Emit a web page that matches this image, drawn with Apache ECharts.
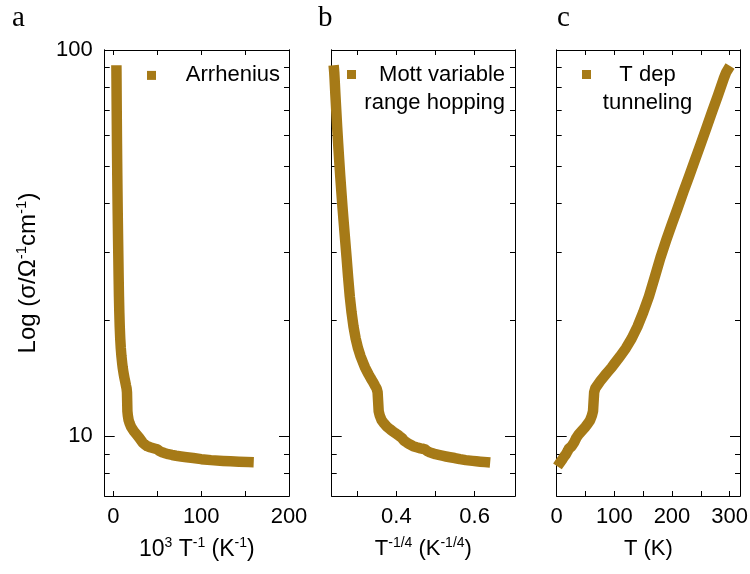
<!DOCTYPE html>
<html>
<head>
<meta charset="utf-8">
<script src="https://cdn.jsdelivr.net/npm/echarts@6/dist/echarts.min.js"></script>
<style>
  html, body { margin: 0; padding: 0; background: #fff; }
  #chart { width: 750px; height: 574px; }
</style>
</head>
<body>
<div id="chart"></div>
<script>
// temperature (K) and conductivity
var tempK = [6.5, 7, 7.5, 8, 9, 10, 11, 12, 13, 14, 15, 16, 17, 18, 19, 20, 21, 22, 24, 26, 28, 30, 32, 34, 36, 38, 40, 43, 46, 50,
  54, 58, 61, 63, 64, 65, 67, 70, 75, 80, 85, 90, 95, 100, 110, 120, 130, 140, 150, 160, 170, 180, 190, 200, 210, 220, 230,
  240, 250, 260, 270, 280, 290, 294, 296];
var sigma = [8.57, 8.59, 8.61, 8.63, 8.67, 8.72, 8.78, 8.82, 8.86, 8.90, 8.94, 8.98, 9.03, 9.08, 9.15, 9.25, 9.28, 9.30, 9.36, 9.42,
  9.52, 9.62, 9.72, 9.90, 10.0, 10.1, 10.18, 10.3, 10.42, 10.58, 10.78, 11.0, 11.3, 11.6, 12.3, 13.0, 13.3, 13.5, 13.85, 14.15,
  14.45, 14.75, 15.05, 15.4, 16.1, 16.9, 17.9, 19.2, 20.9, 23.0, 25.8, 29.0, 32.2, 35.5, 39.0, 43.0, 47.2, 52.0, 57.2, 63.0,
  69.5, 76.5, 84.5, 87.5, 88.5];

var xTicksA = [0, 50, 100, 150, 200];
var xLabelsA = [0, 100, 200];
var xTicksB = [0.3, 0.4, 0.5, 0.6];
var xLabelsB = [0.4, 0.6];
var xTicksC = [50, 100, 150, 200, 250, 300];
var xLabelsC = [0, 100, 200, 300];
var yMajor = [10, 100];
var yMinor = [8, 9, 20, 30, 40, 50, 60, 70, 80, 90];

var colour = '#A67A17';
var font = 'Liberation Sans, Arial, sans-serif';
var serif = 'Liberation Serif, Times New Roman, serif';

var arrData = tempK.map(function (t, i) { return [1000 / t, sigma[i]]; });
var mottData = tempK.map(function (t, i) { return [Math.pow(t, -0.25), sigma[i]]; });
var tunData = tempK.map(function (t, i) { return [t, sigma[i]]; });

function richFor(size, sup) {
  return {
    n: { fontSize: size, lineHeight: size + 4, fontFamily: font, color: '#000' },
    s: { fontSize: sup, lineHeight: sup, verticalAlign: 'top', fontFamily: font, color: '#000' }
  };
}

function xAxes(g, min, max, ticks, labels, name) {
  var line = { onZero: false, lineStyle: { color: '#000', width: 1 } };
  var tick = { inside: true, length: 5, customValues: ticks, lineStyle: { color: '#000', width: 1 } };
  return [{
    type: 'value', gridIndex: g, position: 'bottom', min: min, max: max,
    axisLine: line, axisTick: tick,
    axisLabel: { customValues: labels, margin: 10, color: '#000', fontSize: 22, fontFamily: font },
    splitLine: { show: false },
    name: name, nameLocation: 'middle', nameGap: 40,
    nameTextStyle: { rich: richFor(g === 0 ? 23 : 22, 14) }
  }, {
    type: 'value', gridIndex: g, position: 'top', min: min, max: max,
    axisLine: line, axisTick: tick, axisLabel: { show: false }, splitLine: { show: false }
  }];
}

function yAxes(g, withLabels) {
  var list = [];
  ['left', 'right'].forEach(function (pos) {
    [[yMajor, 10], [yMinor, 5]].forEach(function (tk, k) {
      var ax = {
        type: 'log', gridIndex: g, position: pos, min: 7, max: 100,
        axisLine: { onZero: false, lineStyle: { color: '#000', width: 1 } },
        axisTick: { inside: true, length: tk[1], customValues: tk[0], lineStyle: { color: '#000', width: 1 } },
        axisLabel: { show: false },
        splitLine: { show: false }
      };
      if (withLabels && pos === 'left' && k === 0) {
        ax.axisLabel = { show: true, customValues: yMajor, margin: 12, color: '#000', fontSize: 22, fontFamily: font };
        ax.name = '{n|Log (σ/Ω}{s|-1}{n|cm}{s|-1}{n|)}';
        ax.nameLocation = 'middle';
        ax.nameRotate = 90;
        ax.nameGap = 62;
        ax.nameTextStyle = { rich: richFor(24, 15) };
      }
      list.push(ax);
    });
  });
  return list;
}

function legendFor(name, left, top, text, width, align, lines) {
  return {
    data: [name], left: left, top: top, padding: 0, icon: 'rect',
    itemWidth: 9, itemHeight: 9, selectedMode: false,
    formatter: function () { return text; },
    textStyle: {
      padding: lines > 1 ? [28.4, 0, 0, 0] : 0,
      rich: { r: { width: width, align: align, fontSize: 22, lineHeight: 28.4, fontFamily: font, color: '#000' } }
    }
  };
}

function series(name, g, data) {
  return {
    type: 'line', name: name, xAxisIndex: 2 * g, yAxisIndex: 4 * g, data: data,
    symbol: 'rect', symbolSize: 9, showSymbol: false,
    lineStyle: { width: 10.5, color: colour, join: 'round', cap: 'square' },
    itemStyle: { color: colour },
    emphasis: { disabled: true }
  };
}

var myChart = echarts.init(document.getElementById('chart'));

var option = {
  animation: false,
  backgroundColor: '#fff',
  title: [
    { text: 'a', left: 12, top: 4, padding: 0, textStyle: { fontFamily: serif, fontSize: 29, fontWeight: 'normal', color: '#000' } },
    { text: 'b', left: 318, top: 4, padding: 0, textStyle: { fontFamily: serif, fontSize: 29, fontWeight: 'normal', color: '#000' } },
    { text: 'c', left: 557, top: 4, padding: 0, textStyle: { fontFamily: serif, fontSize: 29, fontWeight: 'normal', color: '#000' } }
  ],
  grid: [
    { left: 104.7, right: 461, top: 50, bottom: 78, outerBoundsMode: 'none' },
    { left: 331.7, right: 235, top: 50, bottom: 78, outerBoundsMode: 'none' },
    { left: 556.7, right: 10, top: 50, bottom: 78, outerBoundsMode: 'none' }
  ],
  xAxis: [].concat(
    xAxes(0, -10, 200, xTicksA, xLabelsA, '{n|10}{s|3}{n| T}{s|-1}{n| (K}{s|-1}{n|)}'),
    xAxes(1, 0.235, 0.703, xTicksB, xLabelsB, '{n|T}{s|-1/4}{n| (K}{s|-1/4}{n|)}'),
    xAxes(2, 0, 318, xTicksC, xLabelsC, '{n|T (K)}')
  ),
  yAxis: [].concat(yAxes(0, true), yAxes(1, false), yAxes(2, false)),
  legend: [
    legendFor('Arrhenius', 147, 64.4, '{r|Arrhenius}', 119, 'right', 1),
    legendFor('Mott variable range hopping', 347, 63.5, '{r|Mott variable}\n{r|range hopping}', 144, 'right', 2),
    legendFor('T dep tunneling', 582, 63.5, '{r|T dep}\n{r|tunneling}', 103, 'center', 2)
  ],
  series: [
    series('Arrhenius', 0, arrData),
    series('Mott variable range hopping', 1, mottData),
    series('T dep tunneling', 2, tunData)
  ]
};

myChart.setOption(option);
</script>
</body>
</html>
